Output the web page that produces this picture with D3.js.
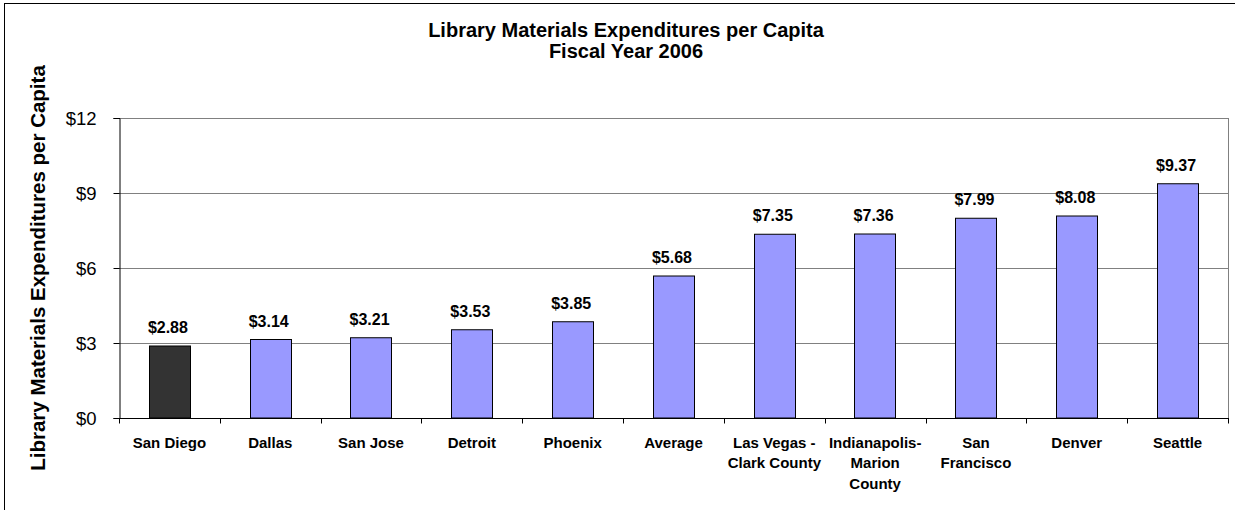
<!DOCTYPE html>
<html>
<head>
<meta charset="utf-8">
<script src="https://cdn.jsdelivr.net/npm/d3@7"></script>
<style>
  html, body { margin: 0; padding: 0; background: #fff; }
  svg { display: block; font-family: Arial, "Liberation Sans", sans-serif; }
</style>
</head>
<body>
<svg id="chart" width="1235" height="510"></svg>
<script>
const categories = ["San Diego", "Dallas", "San Jose", "Detroit", "Phoenix", "Average",
  "Las Vegas - Clark County", "Indianapolis-Marion County", "San Francisco", "Denver", "Seattle"];
const categoryLines = [["San Diego"], ["Dallas"], ["San Jose"], ["Detroit"], ["Phoenix"], ["Average"],
  ["Las Vegas -", "Clark County"], ["Indianapolis-", "Marion", "County"], ["San", "Francisco"], ["Denver"], ["Seattle"]];
const values = [2.88, 3.14, 3.21, 3.53, 3.85, 5.68, 7.35, 7.36, 7.99, 8.08, 9.37];
const highlighted = ["San Diego"];
const yTicks = [0, 3, 6, 9, 12];
const titleLines = ["Library Materials Expenditures per Capita", "Fiscal Year 2006"];
const yTitle = "Library Materials Expenditures per Capita";

const svg = d3.select("#chart");
const plot = { left: 119, right: 1228, top: 118, bottom: 418 };

// outer frame
svg.append("rect").attr("x", 4.5).attr("y", 3.5).attr("width", 1240).attr("height", 520)
  .attr("fill", "none").attr("stroke", "#000").attr("stroke-width", 1);

const x = d3.scaleBand().domain(categories).range([plot.left, plot.right])
  .paddingInner(0.59).paddingOuter(0.295);
const y = d3.scaleLinear().domain([0, 12]).range([plot.bottom, plot.top]);

// gridlines
svg.append("g").selectAll("line").data(yTicks.filter(d => d > 0)).join("line")
  .attr("x1", plot.left).attr("x2", plot.right)
  .attr("y1", d => Math.round(y(d)) + 0.5).attr("y2", d => Math.round(y(d)) + 0.5)
  .attr("stroke", "#808080").attr("stroke-width", 1);
// right plot border
svg.append("line").attr("x1", plot.right + 0.5).attr("x2", plot.right + 0.5)
  .attr("y1", plot.top).attr("y2", plot.bottom).attr("stroke", "#808080");

// bars
svg.append("g").selectAll("rect").data(categories).join("rect")
  .attr("x", d => Math.round(x(d)) + 0.5)
  .attr("width", Math.round(x.bandwidth()))
  .attr("y", (d, i) => y(values[i]))
  .attr("height", (d, i) => y(0) - y(values[i]))
  .attr("fill", d => highlighted.includes(d) ? "#333333" : "#9999FF")
  .attr("stroke", "#000").attr("stroke-width", 1);

// value labels
svg.append("g").selectAll("text").data(categories).join("text")
  .attr("x", d => x(d) + x.bandwidth() / 2 - 1.5)
  .attr("y", (d, i) => y(values[i]) - 13)
  .attr("text-anchor", "middle")
  .attr("font-size", 16).attr("font-weight", "bold").attr("fill", "#000")
  .text((d, i) => "$" + values[i].toFixed(2));

// y axis
const yAxis = d3.axisLeft(y).tickValues(yTicks).tickFormat(d => "$" + d).tickSize(6).tickPadding(17);
const gy = svg.append("g").attr("transform", `translate(${plot.left + 0.5},0)`).call(yAxis);
gy.select(".domain").attr("stroke", "#000");
gy.selectAll(".tick line").attr("stroke", "#000");
gy.selectAll(".tick text").attr("font-size", 18.5).attr("font-family", "Arial, 'Liberation Sans', sans-serif")
  .attr("fill", "#000").attr("dy", "0.33em");

// x axis with ticks at band boundaries
const gx = svg.append("g").attr("transform", `translate(0,${plot.bottom + 0.5})`);
gx.append("line").attr("x1", plot.left).attr("x2", plot.right + 1).attr("stroke", "#000");
const step = x.step();
const bounds = d3.range(categories.length + 1).map(i => plot.left + i * step);
gx.selectAll("line.tk").data(bounds).join("line").attr("class", "tk")
  .attr("x1", d => Math.round(d) + 0.5).attr("x2", d => Math.round(d) + 0.5)
  .attr("y1", 0).attr("y2", 5).attr("stroke", "#000");
const labels = gx.selectAll("text.cat").data(categories).join("text").attr("class", "cat")
  .attr("text-anchor", "middle").attr("font-size", 15).attr("font-weight", "bold").attr("fill", "#000");
labels.each(function (d, i) {
  const t = d3.select(this);
  categoryLines[i].forEach((ln, j) => {
    t.append("tspan").attr("x", x(d) + x.bandwidth() / 2).attr("y", 29 + j * 20.5).text(ln);
  });
});

// title
svg.append("g").selectAll("text").data(titleLines).join("text")
  .attr("x", 626).attr("y", (d, i) => 37 + i * 21)
  .attr("text-anchor", "middle").attr("font-size", 20).attr("font-weight", "bold").attr("fill", "#000")
  .text(d => d);

// y title
svg.append("text")
  .attr("transform", `translate(45,${(plot.top + plot.bottom) / 2}) rotate(-90)`)
  .attr("text-anchor", "middle").attr("font-size", 20.5).attr("font-weight", "bold").attr("fill", "#000")
  .text(yTitle);
</script>
</body>
</html>
